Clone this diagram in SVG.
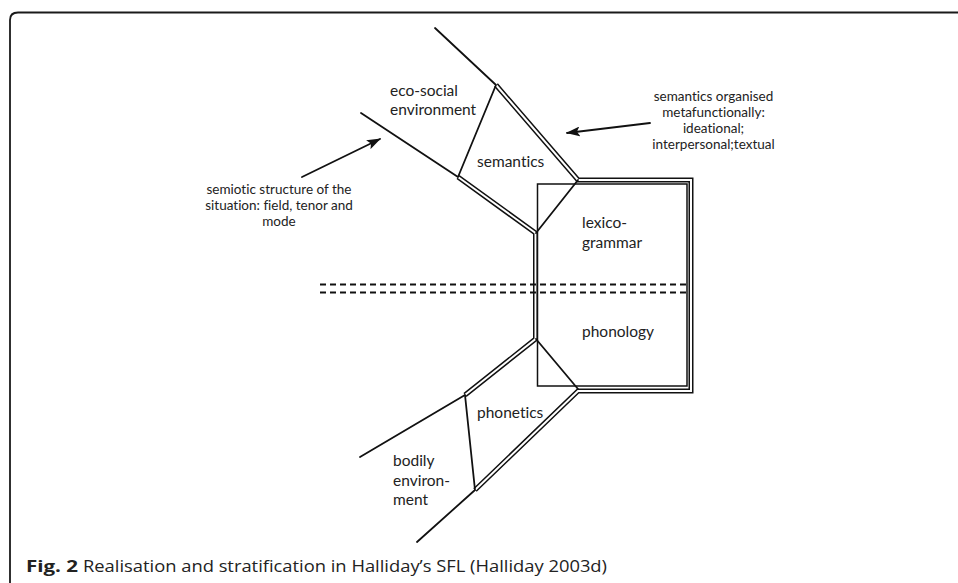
<svg xmlns="http://www.w3.org/2000/svg" width="958" height="583" viewBox="0 0 958 583">
<defs>
<style>
.frame{fill:none;stroke:#1a1a1a;stroke-width:1.8}
.ln{fill:none;stroke:#111;stroke-width:1.8;stroke-linecap:round;stroke-linejoin:round}
.rect{fill:none;stroke:#111;stroke-width:1.5}
.dblo{fill:none;stroke:#111;stroke-width:5;stroke-linejoin:miter;stroke-miterlimit:10}
.dbli{fill:none;stroke:#fff;stroke-width:2;stroke-linejoin:miter;stroke-miterlimit:10}
.dash{fill:none;stroke:#111;stroke-width:2;stroke-dasharray:6 4}
text{font-variant-ligatures:none;font-feature-settings:"liga" 0,"clig" 0}
.lab{font-family:Lato,"Open Sans","DejaVu Sans",sans-serif;font-size:15.5px;fill:#222}
.ann{font-family:Lato,"Open Sans","DejaVu Sans",sans-serif;font-size:13.5px;fill:#222;text-anchor:middle}
.cap{font-family:"Open Sans","Liberation Sans",sans-serif;font-size:16px;fill:#222}
</style>
<marker id="ah" markerUnits="userSpaceOnUse" markerWidth="14" markerHeight="10" refX="13" refY="5" orient="auto">
<path d="M0,0 L14,5 L0,10 L3,5 z" fill="#111"/>
</marker>
</defs>
<rect width="958" height="583" fill="#fff"/>
<path class="frame" d="M10,583 V20 Q10,12.5 18,12.5 H958"/>

<g id="connectors">
<line class="ln" x1="435" y1="28" x2="496" y2="85"/>
<line class="ln" x1="361" y1="113" x2="458" y2="177"/>
<line class="ln" x1="465" y1="395" x2="360" y2="457"/>
<line class="ln" x1="475" y1="490" x2="417" y2="542"/>
<polyline class="dblo" points="496,85 578,180 691,180 691,391 578,391 475,490"/>
<polyline class="dblo" points="458,177 535.5,233 535.5,339 465,395"/>
<polyline class="dbli" points="496,85 578,180 691,180 691,391 578,391 475,490"/>
<polyline class="dbli" points="458,177 535.5,233 535.5,339 465,395"/>
<line class="dash" x1="320" y1="284.5" x2="688" y2="284.5"/>
<line class="dash" x1="320" y1="292.5" x2="688" y2="292.5"/>
<line class="ln" x1="302" y1="177" x2="380" y2="139" marker-end="url(#ah)"/>
<line class="ln" x1="650" y1="123" x2="567" y2="133" marker-end="url(#ah)"/>
</g>

<g id="eco-social">
<text class="lab" x="390" y="96">eco-social</text>
<text class="lab" x="390" y="115">environment</text>
</g>

<g id="semantics">
<line class="ln" x1="458" y1="177" x2="496" y2="85"/>
<line class="ln" x1="578" y1="180" x2="536" y2="233"/>
<text class="lab" x="477" y="167">semantics</text>
</g>

<g id="lexicogrammar-phonology">
<rect class="rect" x="537.5" y="184" width="149.5" height="202"/>
<text class="lab" x="582" y="228">lexico-</text>
<text class="lab" x="582" y="248">grammar</text>
<text class="lab" x="582" y="337">phonology</text>
</g>

<g id="phonetics">
<line class="ln" x1="536" y1="339" x2="578" y2="389"/>
<line class="ln" x1="465" y1="395" x2="475" y2="490"/>
<text class="lab" x="477" y="418">phonetics</text>
</g>

<g id="bodily">
<text class="lab" x="393" y="466">bodily</text>
<text class="lab" x="393" y="486">environ-</text>
<text class="lab" x="393" y="505">ment</text>
</g>

<g id="annotation-metafunction">
<text class="ann" x="713.5" y="101">semantics organised</text>
<text class="ann" x="713.5" y="117">metafunctionally:</text>
<text class="ann" x="713.5" y="133">ideational;</text>
<text class="ann" x="713.5" y="149">interpersonal;textual</text>
</g>

<g id="annotation-situation">
<text class="ann" x="279" y="194">semiotic structure of the</text>
<text class="ann" x="279" y="210">situation: field, tenor and</text>
<text class="ann" x="279" y="226">mode</text>
</g>

<g id="caption">
<text class="cap" x="26" y="572" font-weight="bold" textLength="52" lengthAdjust="spacingAndGlyphs">Fig. 2</text>
<text class="cap" x="83" y="572" textLength="524" lengthAdjust="spacingAndGlyphs">Realisation and stratification in Halliday’s SFL (Halliday 2003d)</text>
</g>
</svg>
